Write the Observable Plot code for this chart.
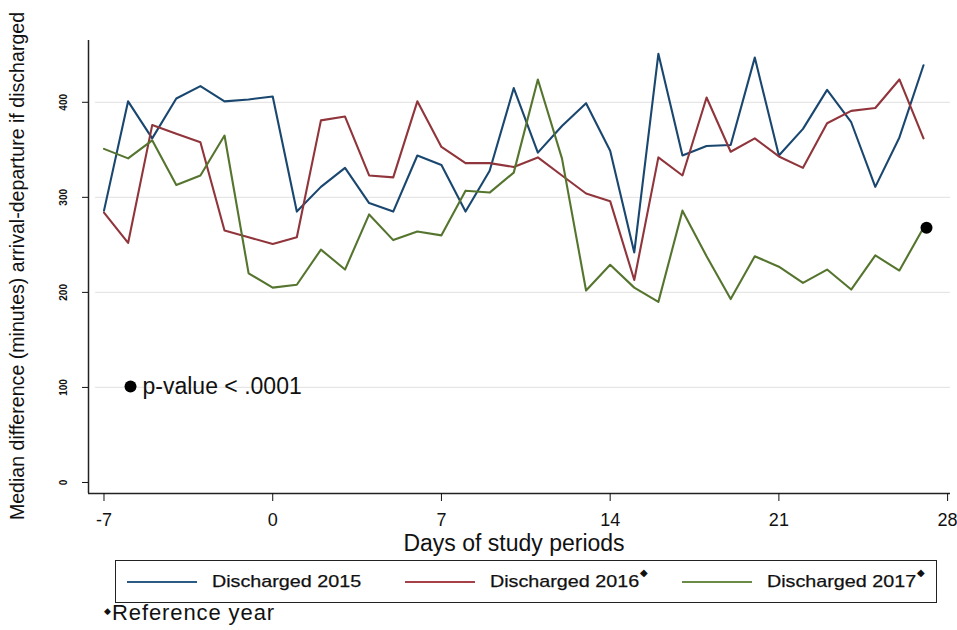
<!DOCTYPE html>
<html>
<head>
<meta charset="utf-8">
<script src="https://cdn.jsdelivr.net/npm/d3@7"></script>
<script src="https://cdn.jsdelivr.net/npm/@observablehq/plot@0.6"></script>
<style>
  body { margin: 0; background: #fff; }
  #wrap { position: relative; width: 957px; height: 630px; overflow: hidden; font-family: "Liberation Sans", Arial, sans-serif; }
  #chart { position: absolute; left: 0; top: 0; }
  .ytitle { position: absolute; left: 18px; top: 266px; transform: translate(-50%, -50%) rotate(-90deg); white-space: nowrap; font-size: 19.6px; color: #111; line-height: 1; }
  .xtitle { position: absolute; left: 514px; top: 532px; transform: translateX(-50%); white-space: nowrap; font-size: 23px; color: #111; line-height: 1; }
  .legend { position: absolute; left: 115px; top: 560px; width: 822px; height: 43px; border: 1.5px solid #222; box-sizing: border-box; }
  .item { position: absolute; top: 0; height: 100%; display: flex; align-items: center; font-size: 17px; color: #111; }
  .sw { display: block; width: 70px; height: 2px; margin-right: 15px; flex: none; }
  .txt { display: inline-block; transform: scaleX(1.16); transform-origin: left center; -webkit-text-stroke: 0.25px #111; }
  .dia { font-size: 10px; position: relative; top: -9px; margin-left: 21px; }
  .ref { position: absolute; left: 104px; top: 600px; font-size: 22px; letter-spacing: 0.9px; color: #111; white-space: nowrap; line-height: 1.2; }
  .ref .d { font-size: 9px; position: relative; top: -6px; letter-spacing: 0; margin-right: 1px; }
</style>
</head>
<body>
<div id="wrap">
  <div id="chart"></div>
  <div class="ytitle">Median difference (minutes) arrival-departure if discharged</div>
  <div class="xtitle">Days of study periods</div>
  <div class="legend" id="legend"></div>
  <div class="ref"><span class="d">◆</span>Reference year</div>
</div>
<script>
const days = [-7,-6,-5,-4,-3,-2,-1,0,1,2,3,4,5,6,7,8,9,10,11,12,13,14,15,16,17,18,19,20,21,22,23,24,25,26,27];
const discharged2015 = [286,401,362,404,417,401,403,406,285,311,331,294,285,344,334,285,328,415,347,375,399,349,242,451,344,354,355,447,344,372,413,379,311,363,439];
const discharged2016 = [284,252,376,367,358,265,258,251,258,381,385,323,321,401,353,336,336,332,342,323,304,296,213,342,323,405,348,362,343,331,378,391,394,424,362];
const discharged2017 = [351,341,360,313,323,365,220,205,208,245,224,282,255,264,260,307,305,326,424,341,202,229,205,190,286,238,193,238,227,210,224,203,239,223,268];
const seriesNames = ["Discharged 2015", "Discharged 2016", "Discharged 2017"];
const seriesColors = ["#1a476f", "#90353b", "#55752f"];
const legendColors = ["#2b5a82", "#a8404a", "#6a8a45"];
const referenceMark = [false, true, true];
const xTicks = [-7, 0, 7, 14, 21, 28];
const yTicks = [0, 100, 200, 300, 400];
const gridTicks = [100, 200, 300, 400];
const pValueLabel = "p-value < .0001";
const pValuePoint = [{x: -5.9, y: 101}];
const highlightPoint = [{x: 27, y: 268}];

const rows = [];
[discharged2015, discharged2016, discharged2017].forEach((vals, i) => {
  vals.forEach((v, j) => rows.push({day: days[j], value: v, series: seriesNames[i]}));
});

const xDomain = [-7.643, 28.12];
const yDomain = [-11.6, 465];

const plot = Plot.plot({
  width: 957,
  height: 560,
  marginLeft: 88,
  marginRight: 7,
  marginTop: 40,
  marginBottom: 67,
  style: {background: "transparent", color: "#111", fontFamily: "Liberation Sans, Arial, sans-serif"},
  x: {domain: xDomain},
  y: {domain: yDomain},
  color: {domain: seriesNames, range: seriesColors},
  marks: [
    Plot.ruleY(gridTicks, {stroke: "#e6e6e6", strokeWidth: 1.2, x1: -7.35, x2: xDomain[1]}),
    Plot.line(rows, {x: "day", y: "value", z: "series", stroke: "series", strokeWidth: 2.1, strokeLinejoin: "round"}),
    Plot.dot(highlightPoint, {x: "x", y: "y", r: 6, fill: "#000", dx: 3}),
    Plot.dot(pValuePoint, {x: "x", y: "y", r: 6, fill: "#000"}),
    Plot.text(pValuePoint, {x: "x", y: "y", text: () => pValueLabel, dx: 12, textAnchor: "start", fontSize: 23, fill: "#111"}),
    Plot.ruleX([xDomain[0]], {stroke: "#222", strokeWidth: 1.5}),
    Plot.ruleY([yDomain[0]], {stroke: "#222", strokeWidth: 1.5}),
    Plot.axisY({ticks: yTicks, tickSize: 6, tickPadding: 16, tickRotate: -90, fontSize: 10, label: null, textAnchor: "middle", fontWeight: "bold", tickFormat: d => String(d)}),
    Plot.axisX({ticks: xTicks, tickSize: 8, tickPadding: 12, fontSize: 18, label: null, tickFormat: d => String(d)})
  ]
});
document.getElementById("chart").appendChild(plot);

const legend = document.getElementById("legend");
const itemLeft = [11, 289, 566];
seriesNames.forEach((name, i) => {
  const it = document.createElement("div");
  it.className = "item";
  it.style.left = itemLeft[i] + "px";
  it.innerHTML = `<span class="sw" style="background:${legendColors[i]}"></span><span class="txt">${name}</span>` + (referenceMark[i] ? '<span class="dia">◆</span>' : '');
  legend.appendChild(it);
});
</script>
</body>
</html>
